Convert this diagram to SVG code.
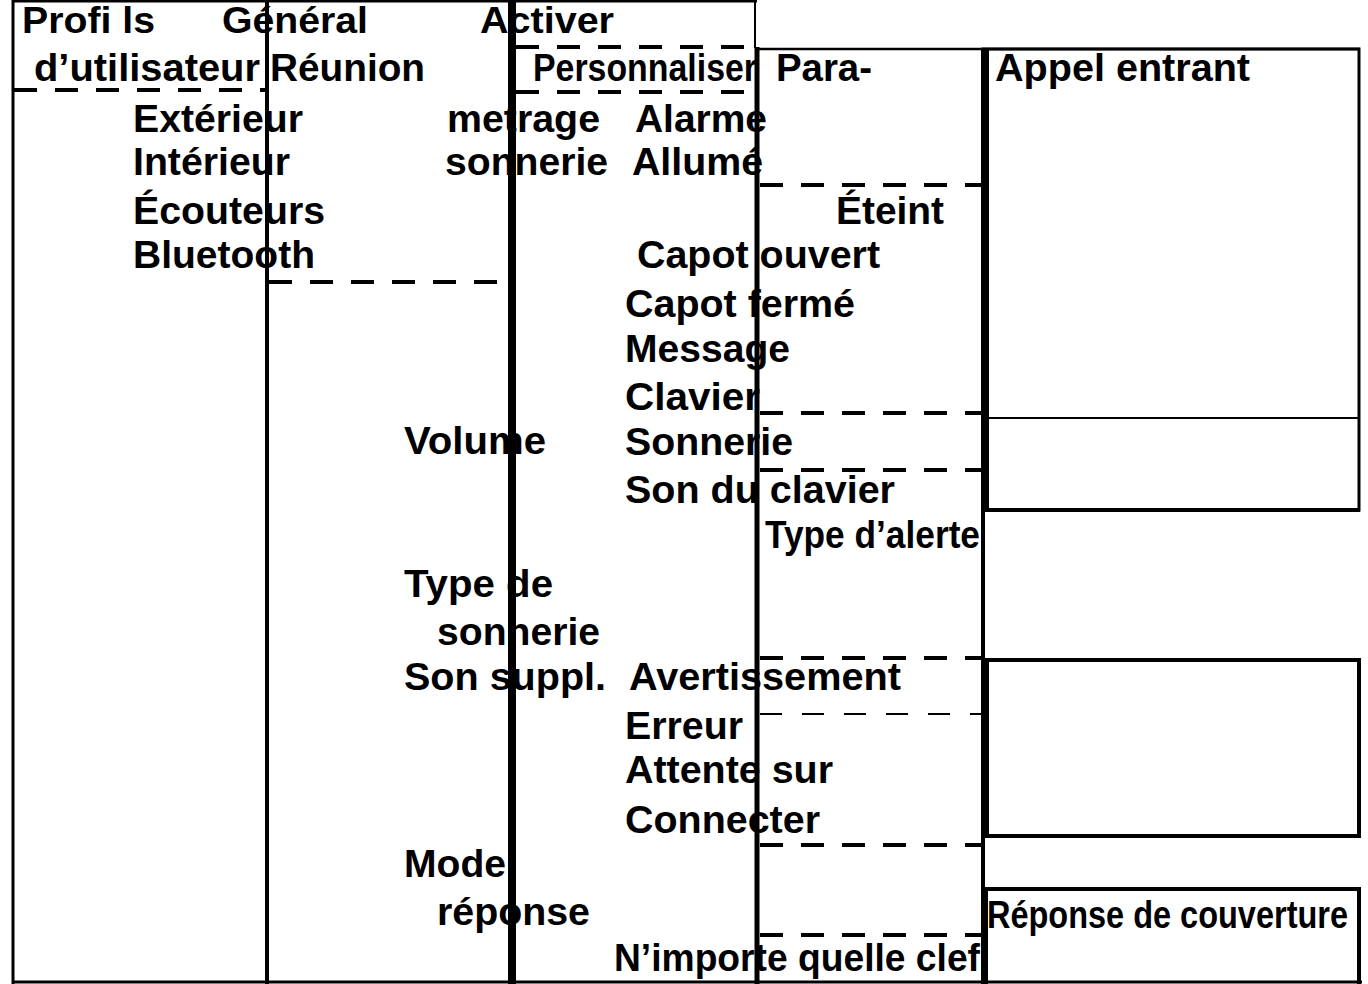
<svg xmlns="http://www.w3.org/2000/svg" width="1368" height="984" viewBox="0 0 1368 984">
<style>
text{font-family:"Liberation Sans",Arial,sans-serif;font-weight:bold;font-size:39px;fill:#000}
text.top{font-size:37px}
.ln{stroke:#000;fill:none}
.dash{stroke:#000;stroke-width:4;stroke-dasharray:23 18;fill:none}
.dthin{stroke:#000;stroke-width:2;stroke-dasharray:22 20;fill:none}
</style>
<rect width="1368" height="984" fill="#fff"/>
<g id="frame">
<line class="ln" x1="12" y1="1" x2="757" y2="1" stroke-width="3"/>
<line class="ln" x1="13" y1="0" x2="13" y2="984" stroke-width="3"/>
<line class="ln" x1="267" y1="0" x2="267" y2="984" stroke-width="4"/>
<line class="ln" x1="512" y1="0" x2="512" y2="984" stroke-width="8"/>
<line class="ln" x1="755" y1="0" x2="755" y2="48" stroke-width="2"/>
<line class="ln" x1="757" y1="47" x2="757" y2="984" stroke-width="5"/>
<line class="ln" x1="757" y1="49" x2="1360" y2="49" stroke-width="2.5"/>
<line class="ln" x1="983" y1="49" x2="983" y2="984" stroke-width="4"/>
<line class="ln" x1="12" y1="982" x2="1362" y2="982" stroke-width="3"/>
</g>
<g id="box-appel">
<rect class="ln" x="983" y="49" width="376" height="461" stroke-width="3"/>
<line class="ln" x1="985" y1="49" x2="985" y2="510" stroke-width="8"/>
<line class="ln" x1="983" y1="510" x2="1360" y2="510" stroke-width="4"/>
<line class="ln" x1="983" y1="418" x2="1359" y2="418" stroke-width="2"/>
<text x="995" y="81" textLength="255" lengthAdjust="spacingAndGlyphs">Appel entrant</text>
</g>
<g id="box-mid">
<rect class="ln" x="984" y="660" width="375" height="176" stroke-width="4"/>
<line class="ln" x1="985" y1="660" x2="985" y2="836" stroke-width="8"/>
</g>
<g id="box-couverture">
<rect class="ln" x="984" y="889" width="375" height="100" stroke-width="4"/>
<line class="ln" x1="985" y1="889" x2="985" y2="984" stroke-width="6"/>
<text x="987" y="928" textLength="361" lengthAdjust="spacingAndGlyphs">Réponse de couverture</text>
</g>
<g id="connectors">
<line class="dash" x1="14" y1="90" x2="267" y2="90"/>
<line class="dash" x1="269" y1="282" x2="510" y2="282"/>
<line class="dash" x1="516" y1="47" x2="757" y2="47"/>
<line class="dash" x1="516" y1="92" x2="757" y2="92"/>
<line class="dash" x1="760" y1="185" x2="981" y2="185"/>
<line class="dash" x1="760" y1="413" x2="981" y2="413"/>
<line class="dash" x1="760" y1="470" x2="981" y2="470"/>
<line class="dash" x1="760" y1="658" x2="981" y2="658"/>
<line class="dthin" x1="760" y1="714" x2="981" y2="714"/>
<line class="dash" x1="760" y1="845" x2="981" y2="845"/>
<line class="dash" x1="760" y1="935" x2="981" y2="935"/>
</g>
<g id="col-profils">
<text class="top" x="22" y="33" textLength="133" lengthAdjust="spacingAndGlyphs">Profi ls</text>
<text x="34" y="81" textLength="226" lengthAdjust="spacingAndGlyphs">d’utilisateur</text>
<text x="133" y="132" textLength="170" lengthAdjust="spacingAndGlyphs">Extérieur</text>
<text x="133" y="175" textLength="157" lengthAdjust="spacingAndGlyphs">Intérieur</text>
<text x="133" y="224" textLength="192" lengthAdjust="spacingAndGlyphs">Écouteurs</text>
<text x="133" y="268" textLength="182" lengthAdjust="spacingAndGlyphs">Bluetooth</text>
</g>
<g id="col-general">
<text class="top" x="222" y="33" textLength="146" lengthAdjust="spacingAndGlyphs">Général</text>
<text x="270" y="81" textLength="155" lengthAdjust="spacingAndGlyphs">Réunion</text>
<text x="447" y="132" textLength="153" lengthAdjust="spacingAndGlyphs">metrage</text>
<text x="445" y="175" textLength="163" lengthAdjust="spacingAndGlyphs">sonnerie</text>
<text x="404" y="454" textLength="142" lengthAdjust="spacingAndGlyphs">Volume</text>
<text x="404" y="597" textLength="149" lengthAdjust="spacingAndGlyphs">Type de</text>
<text x="437" y="645" textLength="163" lengthAdjust="spacingAndGlyphs">sonnerie</text>
<text x="404" y="690" textLength="202" lengthAdjust="spacingAndGlyphs">Son suppl.</text>
<text x="404" y="877" textLength="102" lengthAdjust="spacingAndGlyphs">Mode</text>
<text x="437" y="925" textLength="153" lengthAdjust="spacingAndGlyphs">réponse</text>
</g>
<g id="col-activer">
<text class="top" x="480" y="33" textLength="134" lengthAdjust="spacingAndGlyphs">Activer</text>
<text x="533" y="81" textLength="224" lengthAdjust="spacingAndGlyphs">Personnaliser</text>
<text x="635" y="132" textLength="132" lengthAdjust="spacingAndGlyphs">Alarme</text>
<text x="632" y="175" textLength="131" lengthAdjust="spacingAndGlyphs">Allumé</text>
<text x="637" y="268" textLength="243" lengthAdjust="spacingAndGlyphs">Capot ouvert</text>
<text x="625" y="317" textLength="230" lengthAdjust="spacingAndGlyphs">Capot fermé</text>
<text x="625" y="362" textLength="165" lengthAdjust="spacingAndGlyphs">Message</text>
<text x="625" y="410" textLength="135" lengthAdjust="spacingAndGlyphs">Clavier</text>
<text x="625" y="455" textLength="168" lengthAdjust="spacingAndGlyphs">Sonnerie</text>
<text x="625" y="503" textLength="270" lengthAdjust="spacingAndGlyphs">Son du clavier</text>
<text x="629" y="690" textLength="272" lengthAdjust="spacingAndGlyphs">Avertissement</text>
<text x="625" y="739" textLength="118" lengthAdjust="spacingAndGlyphs">Erreur</text>
<text x="625" y="783" textLength="208" lengthAdjust="spacingAndGlyphs">Attente sur</text>
<text x="625" y="833" textLength="195" lengthAdjust="spacingAndGlyphs">Connecter</text>
<text x="614" y="971" textLength="366" lengthAdjust="spacingAndGlyphs">N’importe quelle clef</text>
</g>
<g id="col-parametrage">
<text x="776" y="81" textLength="96" lengthAdjust="spacingAndGlyphs">Para-</text>
<text x="836" y="224" textLength="108" lengthAdjust="spacingAndGlyphs">Éteint</text>
<text x="765" y="548" textLength="215" lengthAdjust="spacingAndGlyphs">Type d’alerte</text>
</g>
</svg>
